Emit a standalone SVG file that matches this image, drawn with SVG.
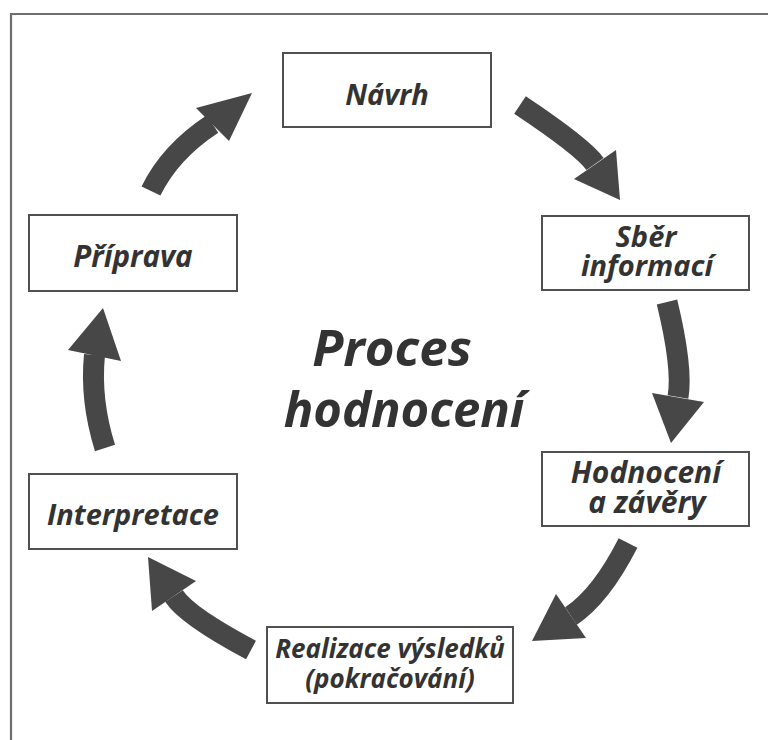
<svg xmlns="http://www.w3.org/2000/svg" width="768" height="740" viewBox="0 0 768 740">
  <style>
    .box { fill: #ffffff; stroke: #505050; stroke-width: 2; }
    .lbl { font-family: "Open Sans", "Noto Sans", sans-serif; font-weight: bold; font-style: italic; fill: #333333; text-anchor: middle; }
    .shaft { fill: none; stroke: #474747; stroke-width: 21; stroke-linecap: butt; }
    .head { fill: #474747; }
  </style>
  <rect width="768" height="740" fill="#ffffff"/>
  <!-- outer frame: only the top and left edges fall inside the sheet -->
  <path d="M11 740 V14 H768" fill="none" stroke="#6e6e6e" stroke-width="2.2"/>

  <g id="nodes">
    <g id="navrh">
      <rect class="box" x="283" y="53" width="208" height="74"/>
      <text class="lbl" x="387" y="105" font-size="29">Návrh</text>
    </g>
    <g id="sber">
      <rect class="box" x="542" y="216" width="207" height="74"/>
      <text class="lbl" x="646" y="247" font-size="29">Sběr</text>
      <text class="lbl" x="647" y="276" font-size="29">informací</text>
    </g>
    <g id="hodnoceni">
      <rect class="box" x="542" y="452" width="207" height="74"/>
      <text class="lbl" x="646" y="483" font-size="30">Hodnocení</text>
      <text class="lbl" x="647" y="513" font-size="30">a závěry</text>
    </g>
    <g id="realizace">
      <rect class="box" x="267" y="627" width="246" height="76"/>
      <text class="lbl" x="390" y="658" font-size="26">Realizace výsledků</text>
      <text class="lbl" x="390" y="688" font-size="26">(pokračování)</text>
    </g>
    <g id="interpretace">
      <rect class="box" x="29" y="474" width="208" height="75"/>
      <text class="lbl" x="133" y="525" font-size="29">Interpretace</text>
    </g>
    <g id="priprava">
      <rect class="box" x="29" y="215" width="208" height="76"/>
      <text class="lbl" x="133" y="267" font-size="29.5">Příprava</text>
    </g>
    <g id="title">
      <text class="lbl" x="392" y="366" font-size="51">Proces</text>
      <text class="lbl" x="404" y="427" font-size="49">hodnocení</text>
    </g>
  </g>

  <g id="connectors">
    <!-- Příprava -> Návrh -->
    <path class="shaft" d="M151 191 Q170 152 212.5 124"/>
    <polygon class="head" points="196,108 229,141 252,93"/>
    <!-- Návrh -> Sběr informací -->
    <path class="shaft" d="M520 105 Q583 147 595 164"/>
    <polygon class="head" points="574,179 616,150 620,200"/>
    <!-- Sběr informací -> Hodnocení -->
    <path class="shaft" d="M667 302 Q683 368 678 397"/>
    <polygon class="head" points="652,393 704,402 671,443"/>
    <!-- Hodnocení -> Realizace -->
    <path class="shaft" d="M628 543 Q601 596 571 616"/>
    <polygon class="head" points="556,594 586,638 532,641"/>
    <!-- Realizace -> Interpretace -->
    <path class="shaft" d="M251 650 Q187 616 174 596"/>
    <polygon class="head" points="152,611 196,581 148,557"/>
    <!-- Interpretace -> Příprava -->
    <path class="shaft" d="M105 448 Q90 400 94.5 355"/>
    <polygon class="head" points="68,350 121,361 103,308"/>
  </g>
</svg>
